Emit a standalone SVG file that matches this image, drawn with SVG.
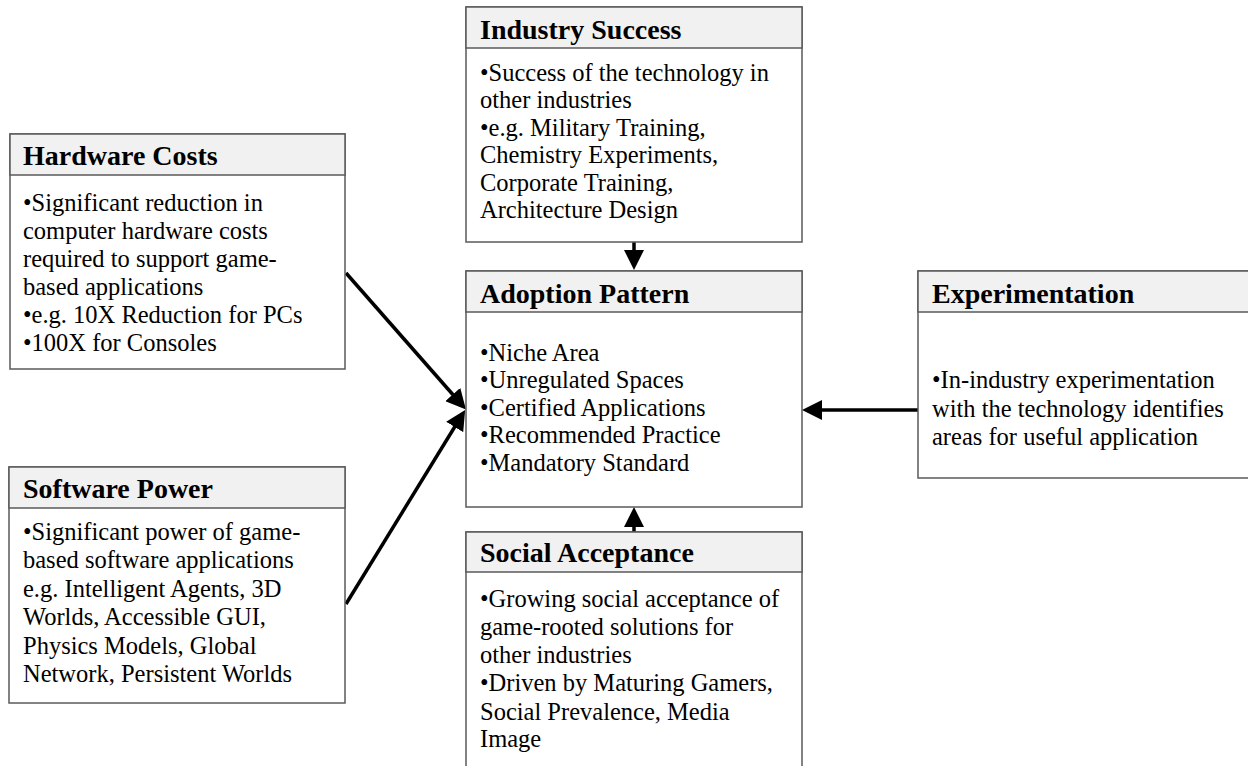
<svg xmlns="http://www.w3.org/2000/svg" width="1248" height="766" viewBox="0 0 1248 766">
<style>
.box{fill:#fff;stroke:#5a5a5a;stroke-width:1.5}
.hdr{fill:#f1f1f1;stroke:#5a5a5a;stroke-width:1.5}
text{font-family:'Liberation Serif','Times New Roman',serif;fill:#000}
.t{font-weight:bold;font-size:28px}
.b{font-size:24.5px}
.c{stroke:#000;stroke-width:3.5;fill:none;marker-end:url(#ah)}
</style>
<defs>
<marker id="ah" markerUnits="userSpaceOnUse" markerWidth="20" markerHeight="20" viewBox="0 0 20 20" refX="14" refY="10" orient="auto">
<path d="M0,0 L20,10 L0,20 z" fill="#000"/>
</marker>
</defs>
<rect width="1248" height="766" fill="#fff"/>
<g id="connectors">
<path class="c" d="M346,273 L462,405"/>
<path class="c" d="M346,604 L462,415"/>
<path class="c" d="M634,242 L634,264"/>
<path class="c" d="M634,532 L634,513"/>
<path class="c" d="M918,410 L808,410"/>
</g>
<g id="hardware">
<rect class="box" x="10" y="134" width="335" height="235"/>
<rect class="hdr" x="10" y="134" width="335" height="41"/>
<text class="t" x="23" y="165">Hardware Costs</text>
<text class="b" x="23" y="211">•Significant reduction in</text>
<text class="b" x="23" y="239">computer hardware costs</text>
<text class="b" x="23" y="267">required to support game-</text>
<text class="b" x="23" y="295">based applications</text>
<text class="b" x="23" y="323">•e.g. 10X Reduction for PCs</text>
<text class="b" x="23" y="351">•100X for Consoles</text>
</g>
<g id="software">
<rect class="box" x="9" y="467" width="336" height="236"/>
<rect class="hdr" x="9" y="467" width="336" height="41"/>
<text class="t" x="23" y="498">Software Power</text>
<text class="b" x="23" y="540">•Significant power of game-</text>
<text class="b" x="23" y="568">based software applications</text>
<text class="b" x="23" y="597">e.g. Intelligent Agents, 3D</text>
<text class="b" x="23" y="625">Worlds, Accessible GUI,</text>
<text class="b" x="23" y="654">Physics Models, Global</text>
<text class="b" x="23" y="682">Network, Persistent Worlds</text>
</g>
<g id="industry">
<rect class="box" x="466" y="7" width="336" height="235"/>
<rect class="hdr" x="466" y="7" width="336" height="41"/>
<text class="t" x="480" y="39">Industry Success</text>
<text class="b" x="480" y="81">•Success of the technology in</text>
<text class="b" x="480" y="108">other industries</text>
<text class="b" x="480" y="136">•e.g. Military Training,</text>
<text class="b" x="480" y="163">Chemistry Experiments,</text>
<text class="b" x="480" y="191">Corporate Training,</text>
<text class="b" x="480" y="218">Architecture Design</text>
</g>
<g id="adoption">
<rect class="box" x="466" y="271" width="336" height="236"/>
<rect class="hdr" x="466" y="271" width="336" height="41"/>
<text class="t" x="480" y="303">Adoption Pattern</text>
<text class="b" x="480" y="361">•Niche Area</text>
<text class="b" x="480" y="388">•Unregulated Spaces</text>
<text class="b" x="480" y="416">•Certified Applications</text>
<text class="b" x="480" y="443">•Recommended Practice</text>
<text class="b" x="480" y="471">•Mandatory Standard</text>
</g>
<g id="experimentation">
<rect class="box" x="918" y="271" width="340" height="207"/>
<rect class="hdr" x="918" y="271" width="340" height="41"/>
<text class="t" x="932" y="303">Experimentation</text>
<text class="b" x="932" y="388">•In-industry experimentation</text>
<text class="b" x="932" y="417">with the technology identifies</text>
<text class="b" x="932" y="445">areas for useful application</text>
</g>
<g id="social">
<rect class="box" x="466" y="532" width="336" height="250"/>
<rect class="hdr" x="466" y="532" width="336" height="40"/>
<text class="t" x="480" y="562">Social Acceptance</text>
<text class="b" x="480" y="607">•Growing social acceptance of</text>
<text class="b" x="480" y="635">game-rooted solutions for</text>
<text class="b" x="480" y="663">other industries</text>
<text class="b" x="480" y="691">•Driven by Maturing Gamers,</text>
<text class="b" x="480" y="720">Social Prevalence, Media</text>
<text class="b" x="480" y="747">Image</text>
</g>
</svg>
